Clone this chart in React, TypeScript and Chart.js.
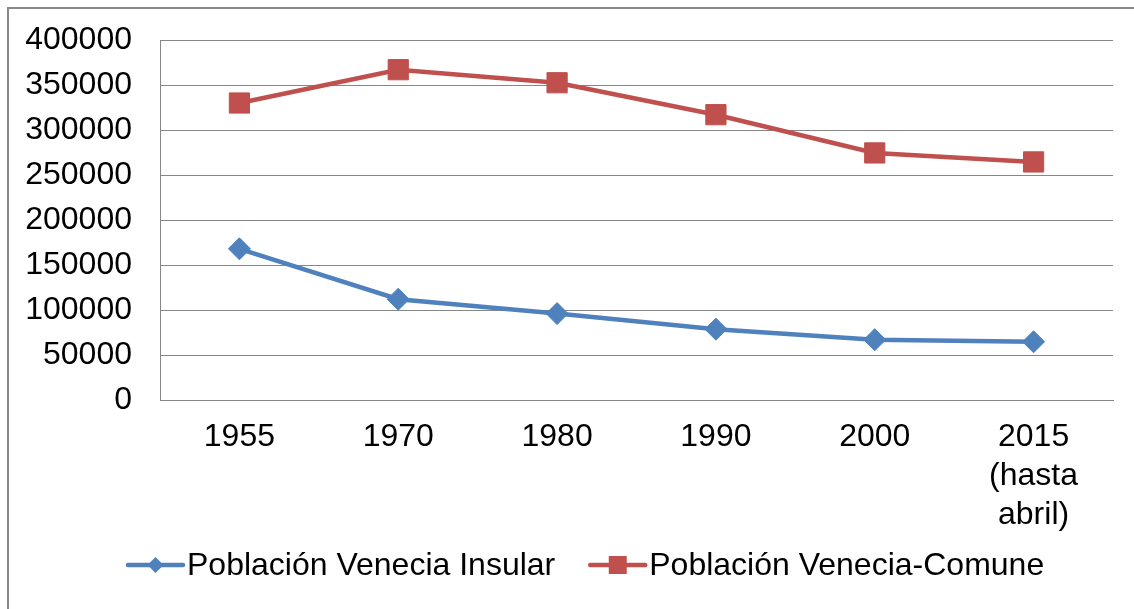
import React, { useEffect, useRef } from "react";
import { Chart, registerables } from "chart.js";

Chart.register(...registerables);

const categories: (string | string[])[] = ["1955", "1970", "1980", "1990", "2000", ["2015", "(hasta", "abril)"]];
const insularValues = [168000, 112000, 96000, 78700, 67000, 64700];
const comuneValues = [330000, 367000, 352500, 317000, 274500, 264500];
const seriesNames = ["Población Venecia Insular", "Población Venecia-Comune"];
const yMin = 0;
const yMax = 400000;
const yStep = 50000;

const FONT = '"Liberation Sans", Arial, sans-serif';
const FONT_SIZE = 32;
const BLUE = "#4F81BD";
const RED = "#C0504D";
const GRID = "#868686";

const legendPlugin = {
  id: "excelLegend",
  afterDraw(chart: any) {
    const ctx = chart.ctx as CanvasRenderingContext2D;
    const y = 565;
    let x = 128;
    chart.data.datasets.forEach((ds: any) => {
      ctx.save();
      ctx.strokeStyle = ds.borderColor;
      ctx.lineWidth = 4.5;
      ctx.lineCap = "round";
      ctx.beginPath();
      ctx.moveTo(x, y);
      ctx.lineTo(x + 55, y);
      ctx.stroke();
      const cx = x + 27.5;
      ctx.fillStyle = ds.borderColor;
      ctx.beginPath();
      if (ds.pointStyle === "rectRot") {
        const r = 8;
        ctx.moveTo(cx - r, y);
        ctx.lineTo(cx, y - r);
        ctx.lineTo(cx + r, y);
        ctx.lineTo(cx, y + r);
        ctx.closePath();
      } else {
        const h = 9;
        ctx.rect(cx - h, y - h, 2 * h, 2 * h);
      }
      ctx.fill();
      ctx.font = `${FONT_SIZE}px ${FONT}`;
      ctx.fillStyle = "#000";
      ctx.textBaseline = "middle";
      ctx.textAlign = "left";
      ctx.fillText(ds.label, x + 59, y + 1);
      x += 59 + ctx.measureText(ds.label).width + 35;
      ctx.restore();
    });
  },
};

export default function App() {
  const canvasRef = useRef<HTMLCanvasElement | null>(null);

  useEffect(() => {
    if (!canvasRef.current) return;
    const chart = new Chart(canvasRef.current, {
      type: "line",
      data: {
        labels: categories,
        datasets: [
          {
            label: seriesNames[0],
            data: insularValues,
            borderColor: BLUE,
            backgroundColor: BLUE,
            borderWidth: 4.5,
            pointStyle: "rectRot",
            pointRadius: 11,
            pointBorderWidth: 1,
            pointBackgroundColor: BLUE,
            pointBorderColor: BLUE,
            tension: 0,
          },
          {
            label: seriesNames[1],
            data: comuneValues,
            borderColor: RED,
            backgroundColor: RED,
            borderWidth: 4.5,
            pointStyle: "rect",
            pointRadius: 14.3,
            pointBorderWidth: 1,
            pointBackgroundColor: RED,
            pointBorderColor: RED,
            tension: 0,
          },
        ],
      },
      options: {
        animation: false,
        responsive: false,
        maintainAspectRatio: false,
        layout: { padding: { top: 40, right: 21, left: 0, bottom: 0 } },
        plugins: {
          legend: { display: false },
          tooltip: { enabled: false },
        },
        scales: {
          x: {
            offset: true,
            grid: { display: false, drawTicks: false },
            border: { display: true, color: GRID, width: 1 },
            ticks: {
              color: "#000",
              padding: 18,
              maxRotation: 0,
              autoSkip: false,
              font: { family: FONT, size: FONT_SIZE, lineHeight: 1.22 },
            },
            afterFit: (s: any) => {
              s.height = 209;
              s.paddingLeft = 0;
              s.paddingRight = 0;
            },
          },
          y: {
            min: yMin,
            max: yMax,
            grid: { color: GRID, lineWidth: 1, drawTicks: false },
            border: { display: true, color: GRID, width: 1 },
            ticks: {
              stepSize: yStep,
              color: "#000",
              padding: 28,
              font: { family: FONT, size: FONT_SIZE },
              callback: (v: any) => String(v),
            },
            afterFit: (s: any) => {
              s.width = 160;
              s.paddingTop = 0;
              s.paddingBottom = 0;
            },
          },
        },
      },
      plugins: [legendPlugin],
    });
    return () => chart.destroy();
  }, []);

  return (
    <div style={{ position: "absolute", left: 0, top: 0, width: 1134, height: 609, overflow: "hidden", background: "#fff" }}>
      <canvas ref={canvasRef} width={1134} height={609} style={{ position: "absolute", left: 0, top: 0, width: 1134, height: 609 }} />
      <div
        style={{
          position: "absolute",
          left: 7,
          top: 7,
          width: 1127,
          height: 602,
          boxSizing: "border-box",
          borderLeft: "2px solid #8a8a8a",
          borderTop: "2px solid #8a8a8a",
          pointerEvents: "none",
        }}
      />
    </div>
  );
}
